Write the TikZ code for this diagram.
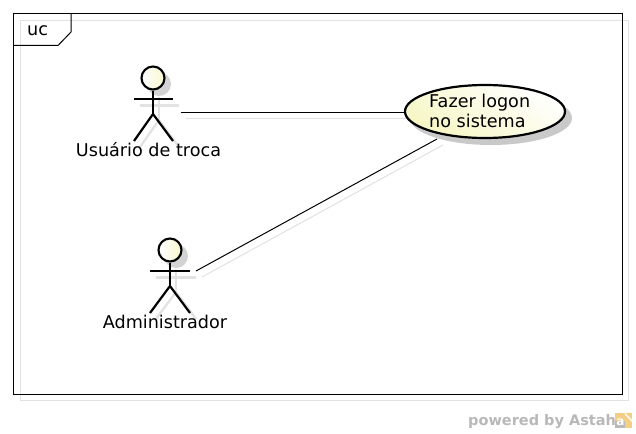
\documentclass[tikz,border=0pt]{standalone}
\usepackage{fontspec}
\setmainfont{DejaVu Sans}
\usepackage{xcolor}
\usetikzlibrary{positioning,shapes.geometric}
\definecolor{shadowgray}{HTML}{E2E2E2}
\definecolor{usecaseyellow}{HTML}{F6F6C4}
\definecolor{logoorange}{HTML}{F3CE84}
\tikzset{
	framebox/.style={draw=black, line width=1pt},
	frameshadow/.style={draw=shadowgray, line width=1pt},
	actorline/.style={draw=black, line width=2.2pt},
	actorarm/.style={draw=black, line width=2.8pt},
	actorshadow/.style={draw=shadowgray, line width=2.2pt},
	actorhead/.style={circle, draw=black, line width=2.1pt, minimum size=23pt, inner sep=0pt, left color=white, right color=usecaseyellow!80},
	headshadow/.style={circle, fill=shadowgray!85!gray, minimum size=24pt, inner sep=0pt},
	assocline/.style={draw=black, line width=1pt},
	assocshadow/.style={draw=shadowgray, line width=1pt},
	actorlabel/.style={font=\fontsize{17.6}{20}\selectfont, inner sep=0pt},
}
\begin{document}
\begin{tikzpicture}[x=1pt,y=-1pt]
	\useasboundingbox (0,0) rectangle (636,433);

	% frame
	\draw [frameshadow] (20.5,20.5) rectangle (628.5,400.5);
	\fill [white] (14,14) rectangle (622,394);
	\draw [frameshadow] (20.5,20.5) -- (622,20.5);
	\draw [frameshadow] (20.5,20.5) -- (20.5,394);
	\draw [framebox] (13.5,13.5) rectangle (622.5,394.5);
	\draw [framebox] (13.5,45.5) -- (58,45.5) -- (71,32) -- (71,13.5);
	\node [actorlabel, anchor=base west] (ucframe) at (27,35.5) {uc};

	% shadows
	\node [headshadow] at (159,84) {};
	\draw [actorshadow] (159,97) -- (159,120);
	\draw [actorshadow] (140,105.5) -- (179,105.5);
	\draw [actorshadow] (159,120) -- (140,147);
	\draw [actorshadow] (159,120) -- (179,147);

	\node [headshadow] at (176,256) {};
	\draw [actorshadow] (176,269) -- (176,292);
	\draw [actorshadow] (156,277.5) -- (196,277.5);
	\draw [actorshadow] (176,292) -- (156,319);
	\draw [actorshadow] (176,292) -- (196,319);

	\node [ellipse, fill=shadowgray!75!gray, minimum width=162pt, minimum height=54pt, inner sep=0pt] at (491,118) {};

	\draw [assocshadow] (186,118.5) -- (411,118.5);
	\draw [assocshadow] (202,277) -- (443,145);

	% actors
	\node [actorhead] (userhead) at (153,78) {};
	\draw [actorline] (userhead.south) -- (153,114);
	\draw [actorarm] (134,99) -- (173,99);
	\draw [actorline] (153,114) -- (134,141);
	\draw [actorline] (153,114) -- (173,141);
	\node [actorlabel, anchor=base] (userlabel) at (148.5,156) {Usuário de troca};

	\node [actorhead] (adminhead) at (170,250) {};
	\draw [actorline] (adminhead.south) -- (170,286);
	\draw [actorarm] (150,271) -- (190,271);
	\draw [actorline] (170,286) -- (150,313);
	\draw [actorline] (170,286) -- (190,313);
	\node [actorlabel, anchor=base] (adminlabel) at (165,328) {Administrador};

	% use case
	\node [ellipse, draw=black, line width=2.2pt, top color=white, bottom color=usecaseyellow, shading angle=-30, minimum width=160pt, minimum height=53pt, inner sep=0pt] (logon) at (485,111.5) {};
	\node [actorlabel, anchor=base west] (logonone) at (429,107.5) {Fazer logon};
	\node [actorlabel, anchor=base west] (logontwo) at (429,127.5) {no sistema};

	% connectors
	\coordinate (userend) at (181,112.5);
	\coordinate (adminend) at (196,271);
	\coordinate (logonend) at (437,139);
	\draw [assocline] (userend) -- (logon.west |- userend);
	\draw [assocline] (adminend) -- (logonend);

	% footer
	\node [anchor=base west, inner sep=0pt, text=black!28, font=\fontsize{14.5}{16}\bfseries\selectfont] (powered) at (468,425) {powered by Astah};
	\fill [logoorange] (615,413) rectangle (632,428);
	\fill [white] (625,413) -- (632,420) -- (632,422) -- (625,415) -- cycle;
	\fill [gray!55] (615,421) rectangle (625,428);
	\node [inner sep=0pt, text=white, font=\fontsize{12}{12}\bfseries\selectfont] (logoa) at (620.5,422.5) {a};
\end{tikzpicture}
\end{document}
